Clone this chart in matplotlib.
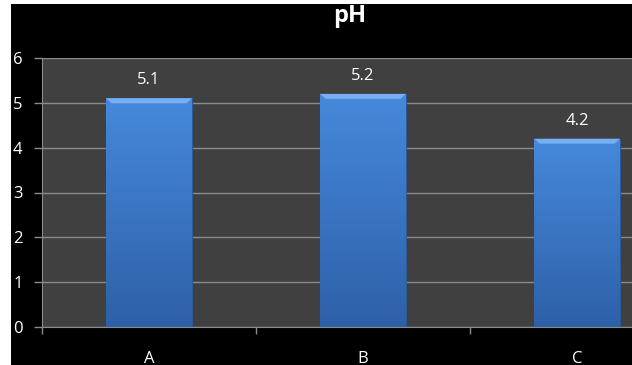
import numpy as np
import matplotlib
matplotlib.use('Agg')
import matplotlib.pyplot as plt
import matplotlib.patches as patches

categories = ['A', 'B', 'C']
ph_values = [5.1, 5.2, 4.2]
y_ticks = [0, 1, 2, 3, 4, 5, 6]

FONT = 'Open Sans'
GRID = '#8c8c8c'

fig = plt.figure(figsize=(6.32, 3.65), dpi=100, facecolor='white')
# black chart area, leaving a thin white margin on the left and top
fig.patches.append(patches.Rectangle((11 / 632, 0), 1, 361 / 365, transform=fig.transFigure,
                                     facecolor='black', edgecolor='none', zorder=-1))

ax = fig.add_axes([42 / 632, 38 / 365, 642 / 632, 269 / 365])
ax.set_facecolor('#404040')

x = np.arange(len(categories))
bars = ax.bar(x, ph_values, width=0.4, color='#3a78c8', edgecolor='#2a5a9a', linewidth=0.8, zorder=3)

# vertical gradient inside each bar
grad = np.linspace(1, 0, 256).reshape(-1, 1)
cmap = matplotlib.colors.LinearSegmentedColormap.from_list('bar', ['#2e60a8', '#4689dc'])
for b in bars:
    bx, by = b.get_x(), b.get_y()
    w, h = b.get_width(), b.get_height()
    im = ax.imshow(grad[::-1], cmap=cmap, aspect='auto', zorder=3.5, origin='lower',
                   extent=(bx, bx + w, by, by + h))
    im.set_clip_path(b)
    # light bevel at the top of the bar
    ax.add_patch(patches.Polygon([(bx, h), (bx + w, h), (bx + w - 0.025, h - 0.11),
                                  (bx + 0.025, h - 0.11)], closed=True,
                                 facecolor='#76b0f0', edgecolor='none', zorder=4))

for xi, v in zip(x, ph_values):
    ax.annotate(f'{v}', (xi, v), xytext=(0, 13), textcoords='offset points', ha='center',
                va='center', color='white', fontsize=12, fontfamily=FONT)

ax.set_xlim(-0.5, 2.5)
ax.set_ylim(0, 6)
ax.set_yticks(y_ticks)
ax.set_xticks(x)
ax.set_xticklabels(categories)
ax.set_xticks([-0.5, 0.5, 1.5], minor=True)
ax.yaxis.grid(True, color=GRID, linewidth=1, zorder=1)
ax.set_axisbelow(True)

ax.tick_params(axis='y', colors=GRID, length=6, width=1, labelcolor='white', labelsize=12, pad=8)
ax.tick_params(axis='x', which='major', length=0, labelcolor='white', labelsize=12, pad=17)
ax.tick_params(axis='x', which='minor', colors=GRID, length=5, width=1)
for lab in ax.get_xticklabels() + ax.get_yticklabels():
    lab.set_fontfamily(FONT)
for s in ['top', 'right']:
    ax.spines[s].set_visible(False)
for s in ['left', 'bottom']:
    ax.spines[s].set_color(GRID)

fig.text(350 / 632, 0.955, 'pH', ha='center', va='center', color='white', fontsize=17,
         fontweight='bold', fontfamily=FONT)

fig.savefig('out.png', dpi=100, facecolor=fig.get_facecolor())
